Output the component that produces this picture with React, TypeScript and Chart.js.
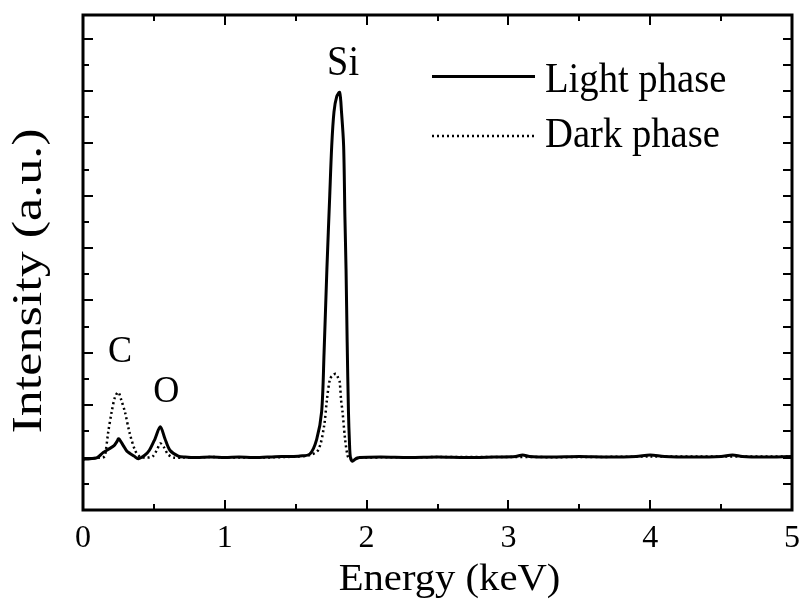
import React, { useEffect, useRef } from "react";
import { Chart, registerables } from "chart.js";

Chart.register(...registerables);

// Energy (keV) / intensity (a.u.)
const lightX = [0.0, 0.05, 0.1, 0.143, 0.18, 0.219, 0.24, 0.252, 0.284, 0.31, 0.331, 0.36, 0.39, 0.437, 0.468, 0.508, 0.545, 0.578, 0.613, 0.672, 0.72, 0.8, 0.9, 1.0, 1.1, 1.2, 1.3, 1.4, 1.45, 1.53, 1.6, 1.648, 1.683, 1.7, 1.72, 1.74, 1.754, 1.77, 1.79, 1.81, 1.823, 1.838, 1.847, 1.855, 1.863, 1.872, 1.879, 1.886, 1.9, 1.92, 1.95, 2.1, 2.3, 2.5, 2.7, 2.9, 3.05, 3.1, 3.15, 3.3, 3.5, 3.7, 3.9, 4.0, 4.1, 4.3, 4.5, 4.58, 4.65, 4.8, 5.0];
const lightY = [-0.03, -0.02, 0.0, 0.1, 0.16, 0.23, 0.31, 0.36, 0.23, 0.12, 0.08, 0.03, -0.02, 0.05, 0.14, 0.36, 0.59, 0.36, 0.14, 0.03, 0.01, 0.0, 0.01, 0.0, 0.01, 0.0, 0.01, 0.02, 0.02, 0.03, 0.07, 0.35, 0.88, 2.0, 3.6, 5.0, 5.95, 6.6, 6.9, 6.97, 6.6, 5.95, 4.6, 3.6, 2.2, 0.88, 0.3, 0.0, -0.07, -0.03, 0.0, 0.01, 0.0, 0.01, 0.0, 0.01, 0.02, 0.05, 0.02, 0.01, 0.02, 0.01, 0.02, 0.05, 0.02, 0.01, 0.02, 0.05, 0.02, 0.01, 0.02];

const darkX = [0.0, 0.05, 0.1, 0.14, 0.155, 0.178, 0.202, 0.225, 0.249, 0.27, 0.296, 0.327, 0.367, 0.4, 0.45, 0.49, 0.52, 0.545, 0.57, 0.6, 0.64, 0.7, 0.9, 1.2, 1.5, 1.6, 1.66, 1.7, 1.72, 1.742, 1.765, 1.784, 1.8, 1.81, 1.82, 1.83, 1.848, 1.865, 1.88, 1.95, 2.5, 3.0, 3.5, 4.0, 4.5, 5.0];
const darkY = [-0.03, -0.02, 0.0, 0.0, 0.04, 0.49, 0.87, 1.15, 1.25, 1.1, 0.87, 0.49, 0.14, 0.02, 0.0, 0.02, 0.14, 0.27, 0.2, 0.06, 0.0, 0.0, 0.01, 0.0, 0.02, 0.05, 0.15, 0.6, 1.1, 1.5, 1.58, 1.6, 1.52, 1.45, 1.1, 0.88, 0.36, 0.05, -0.02, 0.0, 0.01, 0.01, 0.01, 0.02, 0.02, 0.02];

const seriesNames = ["Light phase", "Dark phase"];
const xTickValues = [0, 1, 2, 3, 4, 5];
const peakLabels = ["Si", "C", "O"];
const peakLabelX = [1.834, 0.261, 0.587];
const peakLabelY = [7.3, 1.83, 1.07];
const xTitle = "Energy (keV)";
const yTitle = "Intensity (a.u.)";

const FONT = "'Liberation Serif', 'Times New Roman', serif";

function drawText(ctx: CanvasRenderingContext2D, text: string, x: number, y: number, size: number, sx: number, sy: number, align: CanvasTextAlign, rot = 0) {
  ctx.save();
  ctx.translate(x, y);
  if (rot) ctx.rotate(rot);
  ctx.scale(sx, sy);
  ctx.font = `${size}px ${FONT}`;
  ctx.textAlign = align;
  ctx.textBaseline = "alphabetic";
  ctx.fillStyle = "#000";
  ctx.fillText(text, 0, 0);
  ctx.restore();
}

const framePlugin = {
  id: "frame",
  afterDatasetsDraw(chart: any) {
    const { ctx, chartArea: a, scales } = chart;
    const xs = scales.x;
    const ys = scales.y;
    ctx.save();
    ctx.strokeStyle = "#000";
    ctx.lineCap = "butt";
    ctx.lineWidth = 2;
    for (let v = 0; v <= 5.0001; v += 0.5) {
      const px = Math.round(xs.getPixelForValue(v));
      const major = Math.abs(v - Math.round(v)) < 1e-6;
      const len = major ? 10 : 6;
      ctx.beginPath();
      ctx.moveTo(px, a.bottom);
      ctx.lineTo(px, a.bottom - len);
      ctx.moveTo(px, a.top);
      ctx.lineTo(px, a.top + len);
      ctx.stroke();
    }
    for (let v = -0.5; v <= 8.0001; v += 0.5) {
      const py = Math.round(ys.getPixelForValue(v));
      const major = Math.abs(v - Math.round(v)) < 1e-6;
      const len = major ? 10 : 6;
      ctx.beginPath();
      ctx.moveTo(a.left, py);
      ctx.lineTo(a.left + len, py);
      ctx.moveTo(a.right, py);
      ctx.lineTo(a.right - 9, py);
      ctx.stroke();
    }
    ctx.lineWidth = 3;
    ctx.strokeRect(a.left, a.top, a.right - a.left, a.bottom - a.top);

    // peak labels
    peakLabels.forEach((t, i) => {
      const size = i === 0 ? 42 : 38;
      drawText(ctx, t, xs.getPixelForValue(peakLabelX[i]), ys.getPixelForValue(peakLabelY[i]), size, i === 0 ? 0.91 : 0.95, 1, "center");
    });

    // legend
    const lx0 = 432, lx1 = 535;
    const rows = [76.5, 136];
    const baselines = [91.7, 146.7];
    ctx.lineWidth = 3;
    ctx.setLineDash([]);
    ctx.beginPath();
    ctx.moveTo(lx0, rows[0]);
    ctx.lineTo(lx1, rows[0]);
    ctx.stroke();
    ctx.lineWidth = 2.5;
    ctx.setLineDash([2, 3]);
    ctx.beginPath();
    ctx.moveTo(lx0, rows[1]);
    ctx.lineTo(lx1, rows[1]);
    ctx.stroke();
    ctx.setLineDash([]);
    seriesNames.forEach((n, i) => drawText(ctx, n, 545, baselines[i], 42, 0.92, 1, "left"));

    // axis titles
    drawText(ctx, xTitle, (a.left + a.right) / 2 + 12, 590, 38, 1.07, 1, "center");
    drawText(ctx, yTitle, 40.7, 281, 42, 1.24, 1, "center", -Math.PI / 2);
    ctx.restore();
  },
};

export default function App() {
  const ref = useRef<HTMLCanvasElement | null>(null);
  useEffect(() => {
    if (!ref.current) return;
    const chart = new Chart(ref.current, {
      type: "line",
      data: {
        datasets: [
          {
            label: seriesNames[0],
            data: lightX.map((x, i) => ({ x, y: lightY[i] })),
            borderColor: "#000",
            borderWidth: 3,
            pointRadius: 0,
            tension: 0.3,
            order: 0,
          },
          {
            label: seriesNames[1],
            data: darkX.map((x, i) => ({ x, y: darkY[i] })),
            borderColor: "#000",
            borderWidth: 2.5,
            borderDash: [2, 3],
            pointRadius: 0,
            tension: 0.3,
            order: 1,
          },
        ],
      },
      options: {
        animation: false,
        responsive: false,
        layout: { padding: { top: 15, right: 11, left: 0, bottom: 0 } },
        plugins: { legend: { display: false }, tooltip: { enabled: false } },
        scales: {
          x: {
            type: "linear",
            min: 0,
            max: 5,
            afterBuildTicks: (s: any) => {
              s.ticks = xTickValues.map((v) => ({ value: v }));
            },
            afterFit: (s: any) => {
              s.height = 92;
              s.paddingLeft = 0;
              s.paddingRight = 0;
            },
            grid: { display: false },
            border: { display: false },
            ticks: {
              color: "#000",
              font: { family: FONT, size: 32 },
              padding: 1,
              maxRotation: 0,
            },
            title: { display: false, text: xTitle },
          },
          y: {
            type: "linear",
            min: -1,
            max: 8.45,
            afterFit: (s: any) => {
              s.width = 83;
              s.paddingTop = 0;
              s.paddingBottom = 0;
            },
            grid: { display: false },
            border: { display: false },
            ticks: { display: false },
            title: { display: false, text: yTitle },
          },
        },
      },
      plugins: [framePlugin],
    });
    return () => chart.destroy();
  }, []);
  return (
    <div style={{ position: "fixed", left: 0, top: 0, width: 803, height: 602, background: "#fff" }}>
      <canvas ref={ref} width={803} height={602} style={{ width: 803, height: 602 }} />
    </div>
  );
}
